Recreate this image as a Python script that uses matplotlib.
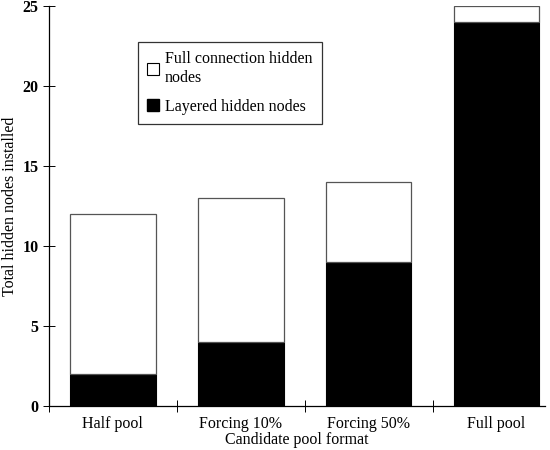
import matplotlib
matplotlib.use("Agg")
from matplotlib import pyplot as plt
from matplotlib.patches import Patch
import numpy as np

plt.rcParams['font.family'] = ['Liberation Serif', 'DejaVu Serif']

categories = ['Half pool', 'Forcing 10%', 'Forcing 50%', 'Full pool']
layered = [2, 4, 9, 24]
full_conn = [10, 9, 5, 1]

xpos = np.arange(len(categories))

fig = plt.figure(figsize=(5.5, 4.5), dpi=100)
ax = fig.add_axes([0.089, 0.098, 0.902, 0.889])

ax.bar(xpos, layered, width=0.67, color='black', edgecolor='black', linewidth=0.8)
ax.bar(xpos, full_conn, width=0.67, bottom=layered, color='white',
       edgecolor='#555555', linewidth=0.9)

ax.set_xlim(-0.5, 3.38)
ax.set_ylim(0, 25)
ax.set_yticks([0, 5, 10, 15, 20, 25])
ax.set_xticks(xpos)
ax.set_xticklabels(categories, fontsize=11.5)
ax.set_xticks([-0.5, 0.5, 1.5, 2.5], minor=True)
ax.tick_params(axis='x', which='major', length=0, pad=7)
ax.tick_params(axis='x', which='minor', direction='inout', length=8, width=0.7)
ax.tick_params(axis='y', direction='inout', length=9, width=0.7, labelsize=11.5, pad=3)
for lab in ax.get_yticklabels():
    lab.set_fontweight('bold')

ax.spines['top'].set_visible(False)
ax.spines['right'].set_visible(False)
ax.spines['left'].set_linewidth(0.9)
ax.spines['bottom'].set_linewidth(0.9)

ax.set_ylabel('Total hidden nodes installed', fontsize=11.5, labelpad=3)
ax.set_xlabel('Candidate pool format', fontsize=11.5, labelpad=0)

handles = [Patch(facecolor='white', edgecolor='black', linewidth=0.8),
           Patch(facecolor='black', edgecolor='black')]
leg = ax.legend(handles, ['Full connection hidden\nnodes', 'Layered hidden nodes'],
                loc='upper left', bbox_to_anchor=(0.163, 0.93), fontsize=11.5,
                frameon=True, fancybox=False, edgecolor='black',
                handlelength=0.7, handleheight=0.7, handletextpad=0.4,
                labelspacing=0.8, borderpad=0.6)
leg.get_frame().set_linewidth(0.9)

fig.savefig('out.png', dpi=100)
